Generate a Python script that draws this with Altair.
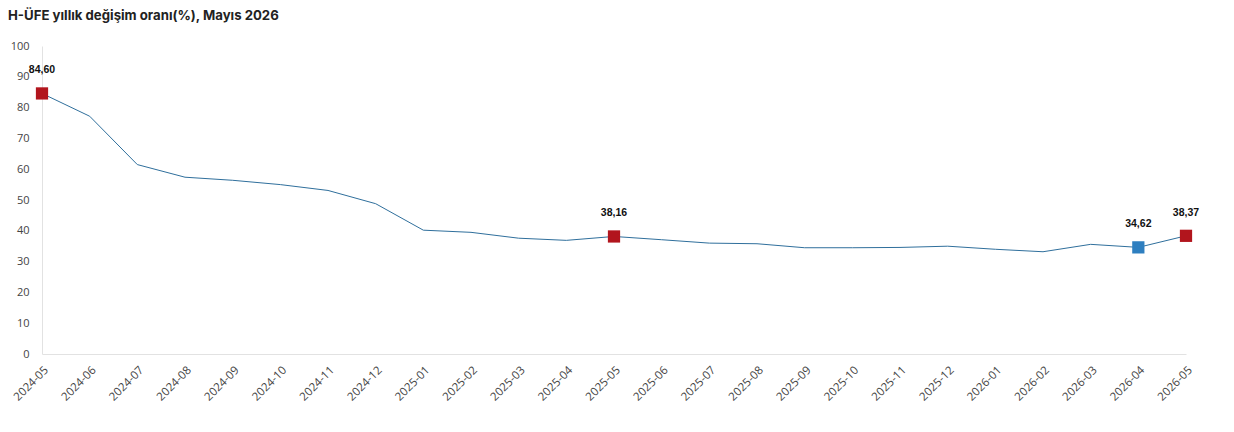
import altair as alt
import pandas as pd

months = ["2024-05", "2024-06", "2024-07", "2024-08", "2024-09", "2024-10", "2024-11", "2024-12",
          "2025-01", "2025-02", "2025-03", "2025-04", "2025-05", "2025-06", "2025-07", "2025-08",
          "2025-09", "2025-10", "2025-11", "2025-12", "2026-01", "2026-02", "2026-03", "2026-04",
          "2026-05"]
values = [84.60, 77.2, 61.5, 57.4, 56.4, 55.0, 53.1, 48.8,
          40.2, 39.5, 37.6, 36.9, 38.16, 37.1, 36.0, 35.8,
          34.5, 34.5, 34.6, 35.0, 34.0, 33.2, 35.6, 34.62,
          38.37]
highlight_months = ["2024-05", "2025-05", "2026-04", "2026-05"]
highlight_kind = ["yıllık", "yıllık", "önceki", "yıllık"]
y_ticks = [0, 10, 20, 30, 40, 50, 60, 70, 80, 90, 100]

df = pd.DataFrame({"ay": months, "deger": values})
hl = df[df["ay"].isin(highlight_months)].copy()
hl["tur"] = highlight_kind
hl["etiket"] = [f"{v:.2f}".replace(".", ",") for v in hl["deger"]]

x = alt.X("ay:N", sort=months, scale=alt.Scale(type="point", padding=0),
          axis=alt.Axis(title=None, labelAngle=-45, labelFontSize=11.5, labelColor="#444",
                        labelFont="Open Sans", domainColor="#e2e2e2", ticks=False,
                        labelPadding=10, grid=False))
y = alt.Y("deger:Q", scale=alt.Scale(domain=[0, 100], nice=False),
          axis=alt.Axis(title=None, values=y_ticks, labelFontSize=11, labelColor="#444",
                        labelFont="Open Sans", domainColor="#e2e2e2", ticks=False,
                        labelPadding=13, grid=False))

line = alt.Chart(df).mark_line(color="#2f6f9c", strokeWidth=1).encode(x=x, y=y)

pts = alt.Chart(hl).mark_square(size=150, opacity=1).encode(
    x=x, y=y,
    color=alt.Color("tur:N", scale=alt.Scale(domain=["yıllık", "önceki"],
                                             range=["#b2151d", "#2e7fc0"]), legend=None),
)

labels = alt.Chart(hl).mark_text(dy=-23, font="Liberation Sans", fontSize=10.5,
                                 fontWeight="bold", color="#111").encode(
    x=x, y=y, text="etiket:N")

chart = (line + pts + labels).properties(
    width=1144, height=308,
    title=alt.TitleParams("H-ÜFE yıllık değişim oranı(%), Mayıs 2026", anchor="start",
                          frame="group", font="Inter", fontSize=13.2, fontWeight="bold",
                          color="#222", dx=-34, offset=17),
    padding={"left": 42, "top": 46, "right": 48, "bottom": 78},
    autosize="none",
    background="white",
).configure_view(stroke=None)

chart.save("out.html", embed_options={"renderer": "svg", "actions": False})
